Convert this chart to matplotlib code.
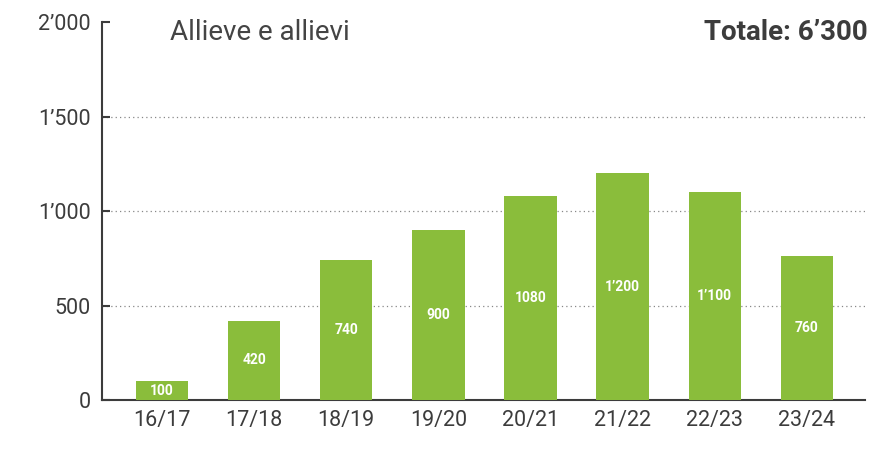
import matplotlib.pyplot as plt
import numpy as np

# Dati
anni = ['16/17', '17/18', '18/19', '19/20', '20/21', '21/22', '22/23', '23/24']
allievi = [100, 420, 740, 900, 1080, 1200, 1100, 760]
etichette = ['100', '420', '740', '900', '1080', '1’200', '1’100', '760']
yticks = [0, 500, 1000, 1500, 2000]
ytick_labels = ['0', '500', '1’000', '1’500', '2’000']

VERDE = '#8aBD3B'
GRIGIO = '#3c3c3c'

plt.rcParams['font.family'] = ['Roboto', 'DejaVu Sans']

fig = plt.figure(figsize=(8.74, 4.5), dpi=100)
ax = fig.add_axes([102 / 874, 50 / 450, (865 - 102) / 874, 378 / 450])

x = np.arange(len(anni))
bars = ax.bar(x, allievi, width=0.57, color=VERDE, zorder=3)

for xi, v, lab in zip(x, allievi, etichette):
    ax.text(xi, v / 2, lab, ha='center', va='center', color='white',
            fontsize=10, fontweight='bold', zorder=4)

ax.set_xlim(-0.65, 7.63)
ax.set_ylim(0, 2000)
ax.set_xticks(x)
ax.set_xticklabels(anni, fontsize=15.5, color=GRIGIO)
ax.set_yticks(yticks)
ax.set_yticklabels(ytick_labels, fontsize=15.5, color=GRIGIO)

# griglia tratteggiata solo a 500/1000/1500
for yv in yticks[1:-1]:
    ax.axhline(yv, color='#888888', linestyle=(0, (1, 2.5)), linewidth=0.9, zorder=1)

for s in ['top', 'right']:
    ax.spines[s].set_visible(False)
ax.spines['left'].set_color(GRIGIO)
ax.spines['bottom'].set_color(GRIGIO)
ax.spines['left'].set_linewidth(1.5)
ax.spines['bottom'].set_linewidth(1.5)
ax.tick_params(axis='y', direction='in', length=6, width=1.5, color=GRIGIO, pad=8)
ax.tick_params(axis='x', length=0, pad=7)

fig.text(170 / 874, 1 - 33 / 450, 'Allieve e allievi', fontsize=20, fontweight='normal',
         color='#444444', va='center', ha='left')
fig.text(868 / 874, 1 - 33 / 450, 'Totale: 6’300', fontsize=20, fontweight='bold',
         color=GRIGIO, va='center', ha='right')

fig.savefig('out.png', dpi=100)
